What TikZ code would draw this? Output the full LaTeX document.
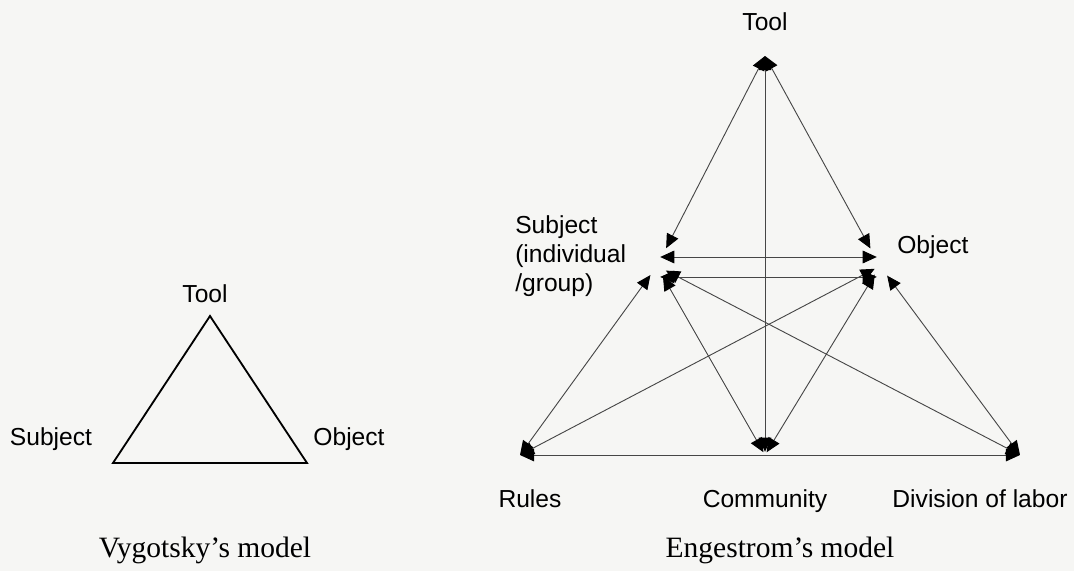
\documentclass[tikz,border=0pt]{standalone}
\usepackage{fontspec}
\setmainfont{Liberation Serif}
\setsansfont{Liberation Sans}
\usepackage{tikz}
\usetikzlibrary{arrows.meta}
\definecolor{paper}{RGB}{246,246,244}
\definecolor{ink}{RGB}{70,70,70}
\tikzset{
	lbl/.style={font=\sffamily\fontsize{17.5}{20.6}\selectfont,inner sep=0pt},
	caption/.style={font=\rmfamily\fontsize{21}{24}\selectfont,inner sep=0pt},
	link/.style={ink,line width=0.65pt,{Triangle[length=10pt,width=9pt,black]}-{Triangle[length=10pt,width=9pt,black]}}
}
\begin{document}
\begin{tikzpicture}[x=0.025cm,y=-0.025cm]
		\fill[paper] (0,0) rectangle (1074,571);
		\useasboundingbox (0,0) rectangle (1074,571);
		\coordinate (VT) at (210,316);
		\coordinate (VS) at (113,463);
		\coordinate (VO) at (307,463);
		\draw[line width=1.3pt,line join=miter] (VS) -- (VT) -- (VO) -- cycle;
		\node[lbl] (VTl) at (205,294) {Tool};
		\node[lbl] (VSl) at (51,439) {Subject};
		\node[lbl] (VOl) at (349,439) {Object};
		\node[caption] (Vcap) at (205,550) {Vygotsky's model};

		\coordinate (ET) at (765,56);
		\coordinate (ES) at (657,266);
		\coordinate (EO) at (880,266);
		\coordinate (ER) at (520,455);
		\coordinate (EC) at (765,455);
		\coordinate (ED) at (1020,455);
		\draw[link,shorten >=0.5cm] (ET) -- (ES);
		\draw[link,shorten >=0.5cm] (ET) -- (EO);
		\draw[link,shorten >=0.08cm] (ET) -- (EC);
		\draw[link,shorten <=0.08cm,shorten >=0.08cm] ([yshift=6.4pt]ES) -- ([yshift=6.4pt]EO);
		\draw[link,shorten <=0.08cm,shorten >=0.08cm] ([yshift=-7.8pt]ES) -- ([yshift=-7.8pt]EO);
		\draw[link,shorten >=0.28cm] (ER) -- (ES);
		\draw[link,shorten >=0.15cm] (ER) -- (EO);
		\draw[link] (ER) -- (ED);
		\draw[link,shorten <=0.3cm,shorten >=0.08cm] (ES) -- (EC);
		\draw[link,shorten <=0.25cm] (ES) -- (ED);
		\draw[link,shorten <=0.25cm,shorten >=0.08cm] (EO) -- (EC);
		\draw[link,shorten <=0.3cm] (EO) -- (ED);
		\node[lbl] (ETl) at (765,22) {Tool};
		\node[lbl,align=left,anchor=west] (ESl) at (515,256) {Subject\\(individual\\/group)};
		\node[lbl,anchor=west] (EOl) at (897,247) {Object};
		\node[lbl,anchor=base] (ERl) at (530,507) {Rules};
		\node[lbl,anchor=base] (ECl) at (765,507) {Community};
		\node[lbl,anchor=base] (EDl) at (980,507) {Division of labor};
		\node[caption] (Ecap) at (780,550) {Engestrom's model};
	    \end{tikzpicture}
\end{document}
